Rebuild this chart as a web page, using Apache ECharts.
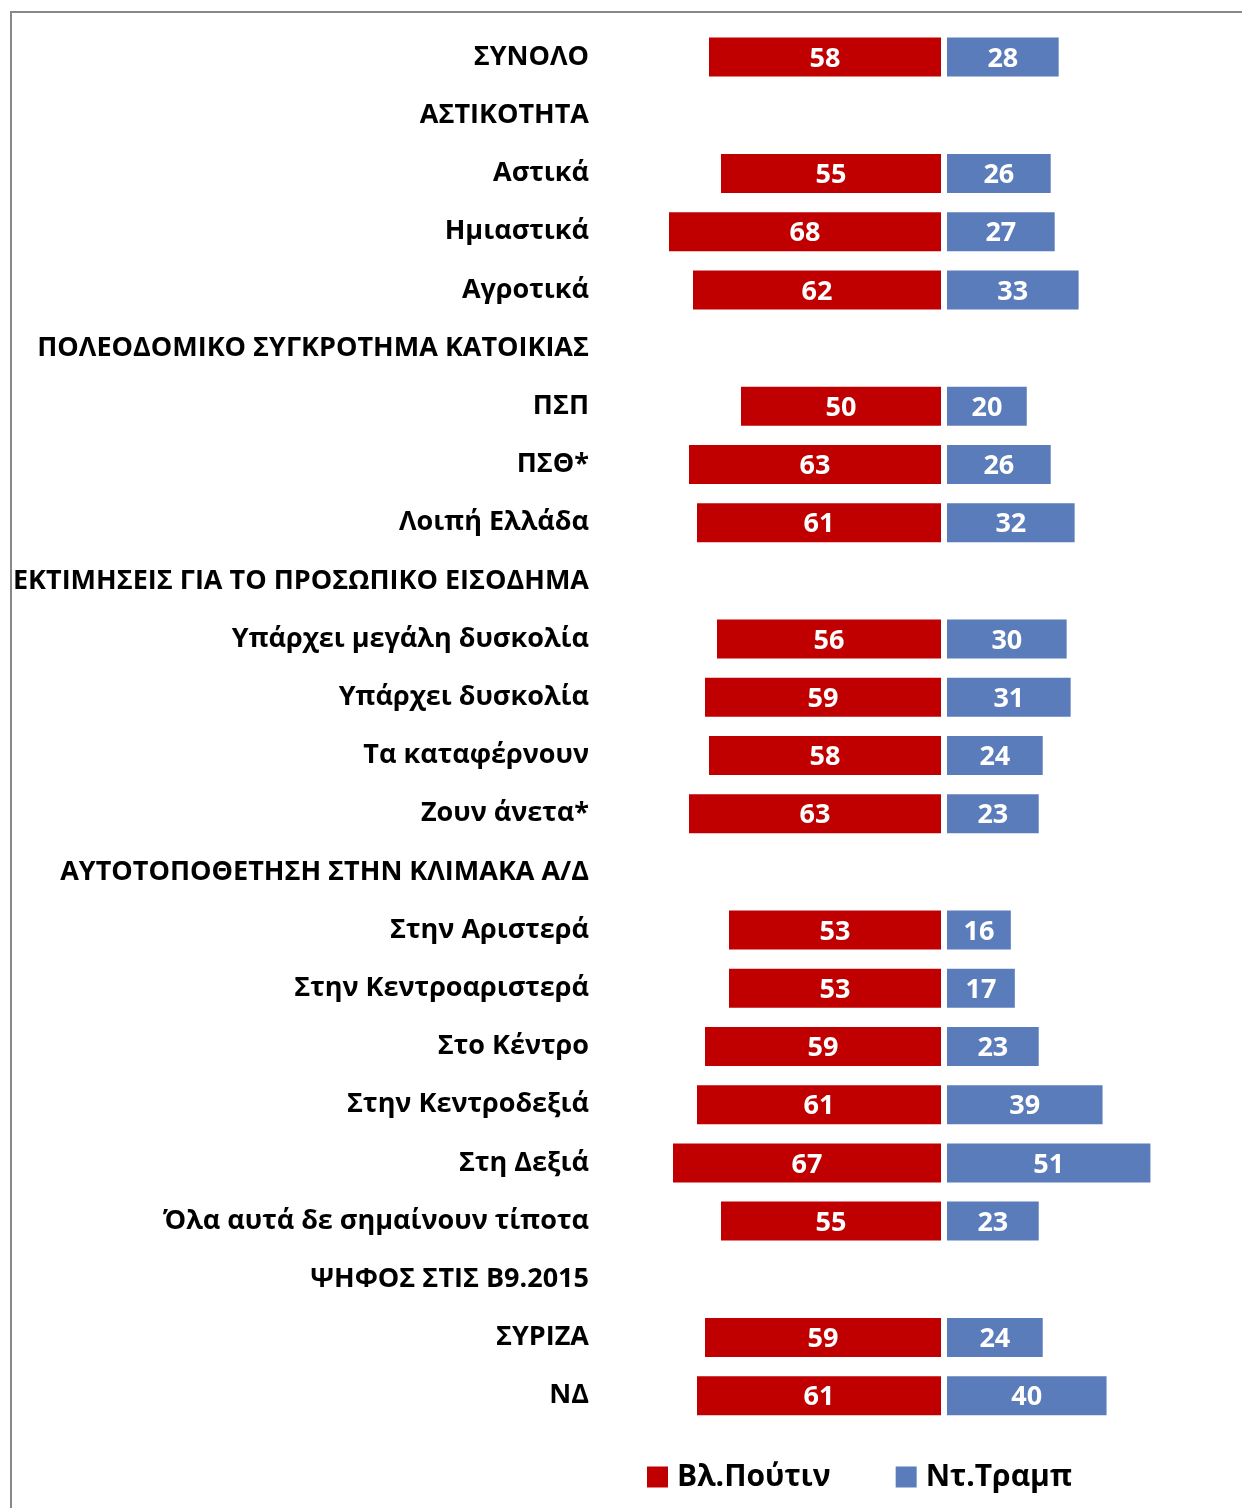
<!DOCTYPE html>
<html>
<head>
<meta charset="utf-8">
<script src="https://cdn.jsdelivr.net/npm/echarts@6/dist/echarts.min.js"></script>
<style>
html,body{margin:0;padding:0;background:#fff;}
#chart{width:1242px;height:1508px;}
</style>
</head>
<body>
<div id="chart"></div>
<script>
const categories = [
  "ΣΥΝΟΛΟ",
  "ΑΣΤΙΚΟΤΗΤΑ",
  "Αστικά",
  "Ημιαστικά",
  "Αγροτικά",
  "ΠΟΛΕΟΔΟΜΙΚΟ ΣΥΓΚΡΟΤΗΜΑ ΚΑΤΟΙΚΙΑΣ",
  "ΠΣΠ",
  "ΠΣΘ*",
  "Λοιπή Ελλάδα",
  "ΕΚΤΙΜΗΣΕΙΣ ΓΙΑ ΤΟ ΠΡΟΣΩΠΙΚΟ ΕΙΣΟΔΗΜΑ",
  "Υπάρχει μεγάλη δυσκολία",
  "Υπάρχει δυσκολία",
  "Τα καταφέρνουν",
  "Ζουν άνετα*",
  "ΑΥΤΟΤΟΠΟΘΕΤΗΣΗ ΣΤΗΝ ΚΛΙΜΑΚΑ Α/Δ",
  "Στην Αριστερά",
  "Στην Κεντροαριστερά",
  "Στο Κέντρο",
  "Στην Κεντροδεξιά",
  "Στη Δεξιά",
  "Όλα αυτά δε σημαίνουν τίποτα",
  "ΨΗΦΟΣ ΣΤΙΣ Β9.2015",
  "ΣΥΡΙΖΑ",
  "ΝΔ"
];
const putinValues = [58, null, 55, 68, 62, null, 50, 63, 61, null, 56, 59, 58, 63, null, 53, 53, 59, 61, 67, 55, null, 59, 61];
const trumpValues = [28, null, 26, 27, 33, null, 20, 26, 32, null, 30, 31, 24, 23, null, 16, 17, 23, 39, 51, 23, null, 24, 40];
const seriesNames = ["Βλ.Πούτιν", "Ντ.Τραμπ"];

const FONT = "'Open Sans', sans-serif";
const chart = echarts.init(document.getElementById('chart'));
const gridTop = 28, gridHeight = 1396.8;
chart.setOption({
  animation: false,
  textStyle: { fontFamily: FONT },
  grid: [
    { left: 661, width: 280, top: gridTop, height: gridHeight },
    { left: 947, width: 280, top: gridTop, height: gridHeight }
  ],
  xAxis: [
    { gridIndex: 0, type: 'value', min: 0, max: 70, inverse: true, show: false },
    { gridIndex: 1, type: 'value', min: 0, max: 70.2, show: false }
  ],
  yAxis: [
    { gridIndex: 0, type: 'category', data: categories, inverse: true,
      axisLine: { show: false }, axisTick: { show: false },
      axisLabel: { margin: 72, color: '#000', fontWeight: 'bold', fontSize: 27, fontFamily: FONT, padding: [4, 0, 0, 0] } },
    { gridIndex: 1, type: 'category', data: categories, inverse: true, show: false }
  ],
  legend: {
    left: 642, top: 1457, itemWidth: 21, itemHeight: 21, itemGap: 65, icon: 'rect',
    textStyle: { fontSize: 30, fontWeight: 'bold', color: '#000', fontFamily: FONT, padding: [0, 0, 0, 4] },
    data: seriesNames
  },
  series: [
    { name: seriesNames[0], type: 'bar', xAxisIndex: 0, yAxisIndex: 0, data: putinValues,
      barWidth: 39, itemStyle: { color: '#C00000' },
      label: { show: true, position: 'inside', offset: [0, 2], color: '#fff', fontWeight: 'bold', fontSize: 27, fontFamily: FONT } },
    { name: seriesNames[1], type: 'bar', xAxisIndex: 1, yAxisIndex: 1, data: trumpValues,
      barWidth: 39, itemStyle: { color: '#5B7CBA' },
      label: { show: true, position: 'inside', offset: [0, 2], color: '#fff', fontWeight: 'bold', fontSize: 27, fontFamily: FONT } }
  ],
  graphic: [
    { type: 'line', shape: { x1: 10, y1: 12, x2: 1242, y2: 12 }, style: { stroke: '#888', lineWidth: 2 } },
    { type: 'line', shape: { x1: 11, y1: 11, x2: 11, y2: 1508 }, style: { stroke: '#888', lineWidth: 2 } }
  ]
});
</script>
</body>
</html>
